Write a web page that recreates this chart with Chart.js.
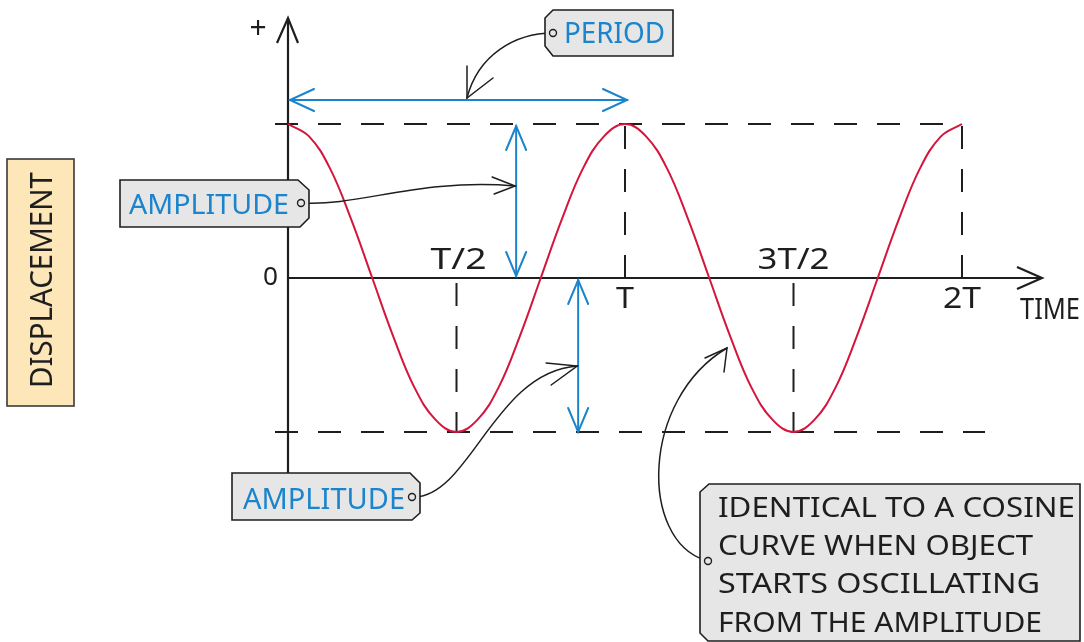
<!DOCTYPE html>
<html>
<head>
<meta charset="utf-8">
<script src="https://cdn.jsdelivr.net/npm/chart.js@4.4.1/dist/chart.umd.min.js"></script>
<style>
  html, body { margin: 0; padding: 0; background: #fff; }
</style>
</head>
<body>
<canvas id="shm" width="1084" height="642"></canvas>
<script>
// time in units of the period T, displacement in units of the amplitude
const times = [0, 0.0625, 0.125, 0.1875, 0.25, 0.3125, 0.375, 0.4375, 0.5,
  0.5625, 0.625, 0.6875, 0.75, 0.8125, 0.875, 0.9375, 1,
  1.0625, 1.125, 1.1875, 1.25, 1.3125, 1.375, 1.4375, 1.5,
  1.5625, 1.625, 1.6875, 1.75, 1.8125, 1.875, 1.9375, 2];
const displacement = [1, 0.92, 0.71, 0.38, 0, -0.38, -0.71, -0.92, -1,
  -0.92, -0.71, -0.38, 0, 0.38, 0.71, 0.92, 1,
  0.92, 0.71, 0.38, 0, -0.38, -0.71, -0.92, -1,
  -0.92, -0.71, -0.38, 0, 0.38, 0.71, 0.92, 1];
const tickTimes = [0.5, 1, 1.5, 2];
const tickLabels = ['T/2', 'T', '3T/2', '2T'];

const RED = '#d4153c';
const BLUE = '#1b84cc';
const INK = '#1e1e1e';
const FONT = '"Noto Sans"';

// draw text so that its cap height and width match the hand lettering
function fitText(ctx, text, x, baseline, capH, width, color) {
  ctx.save();
  ctx.font = (capH / 0.714).toFixed(1) + 'px ' + FONT;
  ctx.textBaseline = 'alphabetic';
  ctx.textAlign = 'left';
  const w = ctx.measureText(text).width;
  ctx.translate(x, baseline);
  ctx.scale(width / w, 1);
  ctx.fillStyle = color;
  ctx.fillText(text, 0, 0);
  ctx.restore();
}

function line(ctx, x1, y1, x2, y2) {
  ctx.beginPath();
  ctx.moveTo(x1, y1);
  ctx.lineTo(x2, y2);
  ctx.stroke();
}

function head(ctx, tx, ty, a, b) {
  ctx.beginPath();
  ctx.moveTo(a[0], a[1]);
  ctx.lineTo(tx, ty);
  ctx.lineTo(b[0], b[1]);
  ctx.stroke();
}

function tag(ctx, pts, hole) {
  ctx.save();
  ctx.beginPath();
  pts.forEach((p, i) => i ? ctx.lineTo(p[0], p[1]) : ctx.moveTo(p[0], p[1]));
  ctx.closePath();
  ctx.fillStyle = '#e6e6e6';
  ctx.fill();
  ctx.strokeStyle = INK;
  ctx.lineWidth = 1.6;
  ctx.stroke();
  ctx.beginPath();
  ctx.arc(hole[0], hole[1], 3.5, 0, Math.PI * 2);
  ctx.lineWidth = 1.4;
  ctx.stroke();
  ctx.restore();
}

const axesPlugin = {
  id: 'axesPlugin',
  beforeDatasetsDraw(chart) {
    const ctx = chart.ctx;
    const xs = chart.scales.x, ys = chart.scales.y;
    const x0 = xs.getPixelForValue(0);
    const yTop = ys.getPixelForValue(1), yMid = ys.getPixelForValue(0), yBot = ys.getPixelForValue(-1);
    ctx.save();
    ctx.strokeStyle = INK;
    ctx.lineWidth = 2;
    ctx.lineCap = 'butt';

    // dashed amplitude guides
    ctx.setLineDash([23, 20]);
    line(ctx, x0 - 13, yTop, xs.getPixelForValue(2), yTop);
    line(ctx, x0 - 13, yBot, xs.getPixelForValue(2) + 23, yBot);

    // dashed drop lines at each tick
    tickTimes.forEach((t) => {
      const v = displacement[times.indexOf(t)];
      const px = xs.getPixelForValue(t);
      if (v > 0) {
        line(ctx, px, yMid, px, ys.getPixelForValue(v));
      } else {
        line(ctx, px, yMid + 5, px, ys.getPixelForValue(v));
      }
    });
    ctx.setLineDash([]);

    // axes with arrow heads
    ctx.lineWidth = 2.2;
    line(ctx, x0, 19, x0, 473);
    head(ctx, x0, 18, [x0 - 11, 43], [x0 + 10, 43]);
    line(ctx, x0, yMid, 1041, yMid);
    head(ctx, 1042, yMid, [1017, yMid - 11], [1017, yMid + 11]);
    ctx.restore();

    // tick labels: above the axis for troughs, below for peaks
    tickTimes.forEach((t, k) => {
      const v = displacement[times.indexOf(t)];
      const px = xs.getPixelForValue(t);
      const lab = tickLabels[k];
      const w = lab.length === 1 ? 18 : lab.length === 2 ? 38 : lab.length === 3 ? 56 : 72;
      const base = v < 0 ? yMid - 9 : yMid + 30;
      fitText(ctx, lab, px - w / 2 + (lab.length === 3 ? 2 : 0), base, 21, w, INK);
    });
    fitText(ctx, '0', 263, yMid + 7, 18, 15, INK);
    ctx.save();
    ctx.font = '30px ' + FONT;
    ctx.fillStyle = INK;
    ctx.textAlign = 'center';
    ctx.textBaseline = 'middle';
    ctx.fillText('+', 258, 29);
    ctx.restore();
    fitText(ctx, 'TIME', 1020, 319, 21, 60, INK);
  },
  afterDatasetsDraw(chart) {
    const ctx = chart.ctx;
    const xs = chart.scales.x, ys = chart.scales.y;
    const yTop = ys.getPixelForValue(1), yMid = ys.getPixelForValue(0), yBot = ys.getPixelForValue(-1);
    ctx.save();
    ctx.lineCap = 'round';

    // blue measurement arrows
    ctx.strokeStyle = BLUE;
    ctx.lineWidth = 2;
    const pL = xs.getPixelForValue(0) + 2, pR = xs.getPixelForValue(1) + 2, pY = yTop - 24;
    line(ctx, pL, pY, pR, pY);
    head(ctx, pL, pY, [pL + 24, pY - 11], [pL + 24, pY + 11]);
    head(ctx, pR, pY, [pR - 24, pY - 11], [pR - 24, pY + 11]);

    const a1 = xs.getPixelForValue(0.677);
    line(ctx, a1, yTop + 2, a1, yMid - 2);
    head(ctx, a1, yTop + 2, [a1 - 10, yTop + 26], [a1 + 10, yTop + 26]);
    head(ctx, a1, yMid - 2, [a1 - 10, yMid - 26], [a1 + 10, yMid - 26]);

    const a2 = xs.getPixelForValue(0.861);
    line(ctx, a2, yMid + 2, a2, yBot);
    head(ctx, a2, yMid + 2, [a2 - 10, yMid + 26], [a2 + 10, yMid + 26]);
    head(ctx, a2, yBot, [a2 - 10, yBot - 24], [a2 + 10, yBot - 24]);

    // displacement label box
    ctx.fillStyle = '#fde6b8';
    ctx.fillRect(7, 159, 67, 247);
    ctx.strokeStyle = '#3a3a3a';
    ctx.lineWidth = 1.6;
    ctx.strokeRect(7, 159, 67, 247);
    ctx.save();
    ctx.translate(52, 388);
    ctx.rotate(-Math.PI / 2);
    fitText(ctx, 'DISPLACEMENT', 0, 0, 22, 216, INK);
    ctx.restore();

    // leader lines
    ctx.strokeStyle = INK;
    ctx.lineWidth = 1.5;
    ctx.beginPath();
    ctx.moveTo(553, 33);
    ctx.bezierCurveTo(515, 33, 478, 55, 467, 98);
    ctx.stroke();
    head(ctx, 467, 98, [467, 66], [493, 78]);

    ctx.beginPath();
    ctx.moveTo(304, 203);
    ctx.bezierCurveTo(360, 206, 420, 178, a1 - 1, 186);
    ctx.stroke();
    head(ctx, a1 - 1, 186, [a1 - 24, 177], [a1 - 22, 194]);

    ctx.beginPath();
    ctx.moveTo(415, 497);
    ctx.bezierCurveTo(470, 495, 495, 372, a2 - 1, 366);
    ctx.stroke();
    head(ctx, a2 - 1, 366, [a2 - 32, 363], [a2 - 27, 385]);

    ctx.beginPath();
    ctx.moveTo(705, 560);
    ctx.bezierCurveTo(640, 540, 640, 400, 727, 348);
    ctx.stroke();
    head(ctx, 727, 348, [705, 358], [724, 372]);

    // tags
    tag(ctx, [[553, 10], [673, 10], [673, 56], [553, 56], [545, 46], [545, 18]], [553, 33]);
    fitText(ctx, 'PERIOD', 564, 43, 21, 101, BLUE);

    tag(ctx, [[120, 180], [298, 180], [309, 190], [309, 218], [300, 227], [120, 227]], [301, 203]);
    fitText(ctx, 'AMPLITUDE', 129, 214, 19, 160, BLUE);

    tag(ctx, [[232, 473], [410, 473], [420, 483], [420, 513], [412, 520], [232, 520]], [412, 497]);
    fitText(ctx, 'AMPLITUDE', 243, 509, 21, 162, BLUE);

    tag(ctx, [[700, 492], [709, 484], [1080, 484], [1080, 641], [708, 641], [700, 633]], [708, 561]);
    fitText(ctx, 'IDENTICAL TO A COSINE', 718, 517, 20, 357, INK);
    fitText(ctx, 'CURVE WHEN OBJECT', 718, 555, 20, 315, INK);
    fitText(ctx, 'STARTS OSCILLATING', 718, 593, 20, 322, INK);
    fitText(ctx, 'FROM THE AMPLITUDE', 718, 632, 20, 324, INK);
    ctx.restore();
  }
};

new Chart(document.getElementById('shm'), {
  type: 'line',
  data: {
    datasets: [{
      data: times.map((t, i) => ({ x: t, y: displacement[i] })),
      borderColor: RED,
      borderWidth: 2,
      pointRadius: 0,
      tension: 0.4,
      clip: false
    }]
  },
  options: {
    responsive: false,
    animation: false,
    devicePixelRatio: 1,
    layout: { padding: { left: 288, right: 122, top: 124, bottom: 210 } },
    scales: {
      x: { type: 'linear', min: 0, max: 2, display: false },
      y: { min: -1, max: 1, display: false }
    },
    plugins: {
      legend: { display: false },
      tooltip: { enabled: false }
    }
  },
  plugins: [axesPlugin]
});
</script>
</body>
</html>
